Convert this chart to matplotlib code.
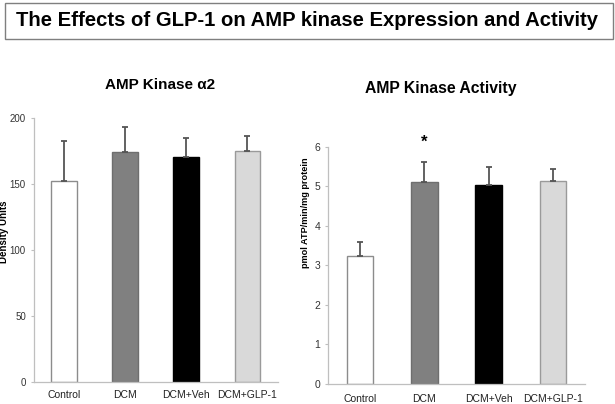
import matplotlib
matplotlib.use("Agg")
import matplotlib.pyplot as plt
from matplotlib.patches import Rectangle

plt.rcParams['font.family'] = ['Liberation Sans', 'DejaVu Sans']

categories = ["Control", "DCM", "DCM+Veh", "DCM+GLP-1"]
expr_vals = [152.5, 174.5, 170.2, 175.2]
expr_err = [30.1, 18.9, 14.4, 11.2]
act_vals = [3.24, 5.10, 5.03, 5.13]
act_err = [0.36, 0.52, 0.46, 0.30]
expr_ticks = [0, 50, 100, 150, 200]
act_ticks = [0, 1, 2, 3, 4, 5, 6]

face = ["#ffffff", "#808080", "#000000", "#d9d9d9"]
edge = ["#8c8c8c", "#6e6e6e", "#000000", "#9a9a9a"]
axis_col = "#bfbfbf"
err_col = "#555555"

W, H = 615, 404
fig = plt.figure(figsize=(6.15, 4.04), dpi=100)

# Title box
fig.patches.append(Rectangle((4.5/W, 1 - 39/H), (613 - 4.5)/W, 36/H,
                             transform=fig.transFigure, fill=False,
                             edgecolor="#7f7f7f", linewidth=1.0))
fig.text(0.5, 1 - 21/H, "The Effects of GLP-1 on AMP kinase Expression and Activity",
         ha="center", va="center", fontsize=14.6, fontweight="bold", color="#000000")


def style(ax, ticks, ylim, xpad, ysize):
    for s in ["top", "right"]:
        ax.spines[s].set_visible(False)
    for s in ["left", "bottom"]:
        ax.spines[s].set_color(axis_col)
        ax.spines[s].set_linewidth(0.9)
    ax.set_ylim(*ylim)
    ax.set_yticks(ticks)
    ax.set_xlim(-0.5, 3.5)
    ax.set_xticks(range(len(categories)))
    ax.set_xticklabels(categories)
    ax.tick_params(axis="y", length=2.5, color=axis_col, labelsize=ysize,
                   labelcolor="#333333", pad=3)
    ax.tick_params(axis="x", length=0, labelsize=7.5, labelcolor="#222222", pad=xpad)


ax1 = fig.add_axes([33.5/W, 22/H, (278 - 33.5)/W, 264/H])
ax1.bar(range(4), expr_vals, width=0.42, color=face, edgecolor=edge, linewidth=1.0, zorder=2)
ax1.errorbar(range(4), expr_vals, yerr=[[0]*4, expr_err], fmt="none", ecolor=err_col,
             elinewidth=1.3, capsize=2, capthick=1.3, zorder=3)
style(ax1, expr_ticks, (0, 200), 5.5, 7)
ax1.set_ylabel("Density Units", fontsize=7, fontweight="bold")
ax1.yaxis.set_label_coords(-0.1, 0.57)
fig.text(160/W, 1 - 85/H, "AMP Kinase α2", ha="center", va="center",
         fontsize=11, fontweight="bold")

ax2 = fig.add_axes([328/W, 20/H, 257/W, 237.3/H])
ax2.bar(range(4), act_vals, width=0.41, color=face, edgecolor=edge, linewidth=1.0, zorder=2)
ax2.errorbar(range(4), act_vals, yerr=[[0]*4, act_err], fmt="none", ecolor=err_col,
             elinewidth=1.3, capsize=2, capthick=1.3, zorder=3)
style(ax2, act_ticks, (0, 6), 7, 7.5)
ax2.set_ylabel("pmol ATP/min/mg protein", fontsize=6.6, fontweight="bold")
ax2.yaxis.set_label_coords(-0.07, 0.72)
fig.text(441/W, 1 - 88/H, "AMP Kinase Activity", ha="center", va="center",
         fontsize=11.3, fontweight="bold")
ax2.text(1, 6.12, "*", ha="center", va="center", fontsize=12, fontweight="bold")

fig.savefig("out.png", dpi=100)
